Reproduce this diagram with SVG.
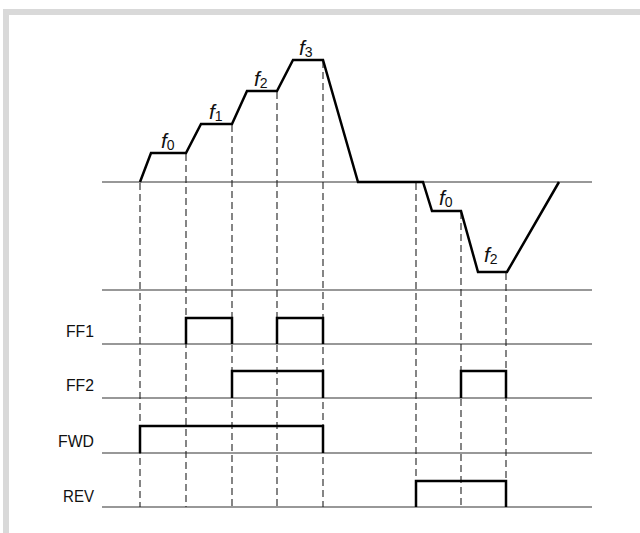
<svg xmlns="http://www.w3.org/2000/svg" width="640" height="533" viewBox="0 0 640 533">
<style>
.frame{fill:#d9d9d9;stroke:none}
.base{stroke:#333;stroke-width:1.2;fill:none}
.sig{stroke:#000;stroke-width:2.5;fill:none;stroke-linejoin:miter}
.dash{stroke:#222;stroke-width:1.1;stroke-dasharray:7,4;fill:none}
.lbl{font-family:"Liberation Sans",Arial,sans-serif;font-size:17px;fill:#111;text-anchor:end}
.f{font-family:"Liberation Sans",Arial,sans-serif;font-size:21px;font-style:italic;fill:#111}
.sub{font-size:14px;font-style:normal}
</style>
<g id="frame">
<rect class="frame" x="3" y="9" width="637" height="6"/>
<rect class="frame" x="3" y="9" width="6" height="524"/>
</g>
<g id="axes">
<line class="base" x1="102" y1="182" x2="592" y2="182"/>
<line class="base" x1="102" y1="290" x2="592" y2="290" stroke="#777"/>
<line class="base" x1="102" y1="344" x2="592" y2="344"/>
<line class="base" x1="102" y1="398" x2="592" y2="398"/>
<line class="base" x1="102" y1="453" x2="592" y2="453"/>
<line class="base" x1="102" y1="507" x2="592" y2="507"/>
</g>
<g id="connectors">
<line class="dash" x1="140" y1="183" x2="140" y2="507"/>
<line class="dash" x1="186" y1="154" x2="186" y2="507"/>
<line class="dash" x1="232" y1="125" x2="232" y2="507"/>
<line class="dash" x1="277" y1="92" x2="277" y2="507"/>
<line class="dash" x1="323" y1="61" x2="323" y2="507"/>
<line class="dash" x1="416" y1="183" x2="416" y2="507"/>
<line class="dash" x1="461" y1="212" x2="461" y2="507"/>
<line class="dash" x1="506" y1="273" x2="506" y2="507"/>
</g>
<g id="frequency">
<polyline class="sig" points="140,182 151,153 186,153 201,124 232,124 247,91 277,91 293,60 323,60 358,182 423,182 432,211 461,211 478,272 507,272 559,182"/>
</g>
<g id="FF1">
<text class="lbl" x="94" y="337" textLength="28" lengthAdjust="spacingAndGlyphs">FF1</text>
<polyline class="sig" points="186,344 186,318 232,318 232,344"/>
<polyline class="sig" points="277,344 277,318 323,318 323,344"/>
</g>
<g id="FF2">
<text class="lbl" x="94" y="391" textLength="28" lengthAdjust="spacingAndGlyphs">FF2</text>
<polyline class="sig" points="232,398 232,371 323,371 323,398"/>
<polyline class="sig" points="461,398 461,371 506,371 506,398"/>
</g>
<g id="FWD">
<text class="lbl" x="94" y="447" textLength="36" lengthAdjust="spacingAndGlyphs">FWD</text>
<polyline class="sig" points="140,453 140,426 323,426 323,453"/>
</g>
<g id="REV">
<text class="lbl" x="94" y="502" textLength="31" lengthAdjust="spacingAndGlyphs">REV</text>
<polyline class="sig" points="416,507 416,481 506,481 506,507"/>
</g>
<g id="freq-labels">
<text class="f" x="161" y="148">f<tspan class="sub" dy="2">0</tspan></text>
<text class="f" x="209" y="119">f<tspan class="sub" dy="2">1</tspan></text>
<text class="f" x="254" y="86">f<tspan class="sub" dy="2">2</tspan></text>
<text class="f" x="299" y="55">f<tspan class="sub" dy="2">3</tspan></text>
<text class="f" x="439" y="205">f<tspan class="sub" dy="2">0</tspan></text>
<text class="f" x="484" y="262">f<tspan class="sub" dy="2">2</tspan></text>
</g>
</svg>
